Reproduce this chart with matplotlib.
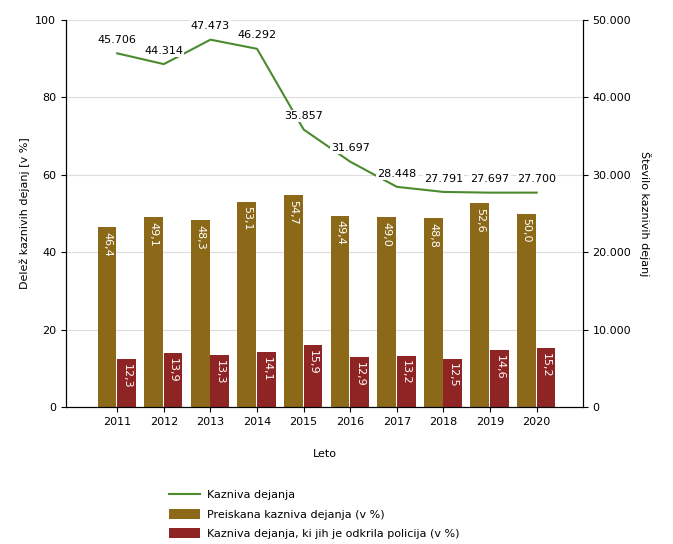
import matplotlib
matplotlib.use("Agg")
import matplotlib.pyplot as plt
import numpy as np
from matplotlib.ticker import FuncFormatter

years = ["2011", "2012", "2013", "2014", "2015", "2016", "2017", "2018", "2019", "2020"]
kazniva = [45706, 44314, 47473, 46292, 35857, 31697, 28448, 27791, 27697, 27700]
preiskana = [46.4, 49.1, 48.3, 53.1, 54.7, 49.4, 49.0, 48.8, 52.6, 50.0]
policija = [12.3, 13.9, 13.3, 14.1, 15.9, 12.9, 13.2, 12.5, 14.6, 15.2]

gold = "#8c6918"
red = "#8e2424"
green = "#4b8a2e"

fig = plt.figure(figsize=(6.73, 5.44), dpi=100)
ax = fig.add_axes([0.098, 0.252, 0.768, 0.711])
x = np.arange(len(years))
w = 0.4
b1 = ax.bar(x - w / 2 - 0.02, preiskana, w, color=gold, zorder=2, label="Preiskana kazniva dejanja (v %)")
b2 = ax.bar(x + w / 2, policija, w, color=red, zorder=2, label="Kazniva dejanja, ki jih je odkrila policija (v %)")
for xi, v in zip(x, preiskana):
    ax.text(xi - w / 2 - 0.02, v - 1.2, f"{v:.1f}".replace(".", ","), rotation=270, ha="center", va="top",
            color="white", fontsize=8, zorder=3)
for xi, v in zip(x, policija):
    ax.text(xi + w / 2, v - 1.2, f"{v:.1f}".replace(".", ","), rotation=270, ha="center", va="top",
            color="white", fontsize=8, zorder=3)
ax.set_ylim(0, 100)
ax.set_yticks([0, 20, 40, 60, 80, 100])
ax.set_xlim(-1.1, 9.99)
ax.set_xticks(x)
ax.set_xticklabels(years, fontsize=8)
ax.tick_params(axis="y", labelsize=8)
ax.yaxis.grid(True, color="#dddddd", linewidth=0.8, zorder=0)
ax.set_axisbelow(True)
ax.spines["top"].set_visible(False)
ax.set_ylabel("Delež kaznivih dejanj [v %]", fontsize=8)
ax.set_xlabel("Leto", fontsize=8, labelpad=16)

ax2 = ax.twinx()
line, = ax2.plot(x, kazniva, color=green, linewidth=1.5, zorder=4, label="Kazniva dejanja")
ax2.set_ylim(0, 50000)
ax2.set_yticks([0, 10000, 20000, 30000, 40000, 50000])
ax2.yaxis.set_major_formatter(FuncFormatter(lambda v, p: "0" if v == 0 else f"{int(v):,}".replace(",", ".")))
ax2.tick_params(axis="y", labelsize=8)
ax2.spines["top"].set_visible(False)
ax2.set_ylabel("Število kaznivih dejanj", fontsize=8, rotation=270, labelpad=14)
for xi, v in zip(x, kazniva):
    ax2.annotate(f"{v:,}".replace(",", "."), (xi, v), xytext=(0, 6), textcoords="offset points",
                 ha="center", va="bottom", fontsize=8,
                 bbox=dict(boxstyle="square,pad=0.1", fc="white", ec="none"), zorder=5)

fig.legend(handles=[line, b1, b2], loc="upper left", bbox_to_anchor=(0.245, 0.108),
           frameon=False, fontsize=8, handlelength=2.8, handleheight=1.0, labelspacing=0.75,
           handletextpad=0.6, borderaxespad=0)
fig.savefig("out.png", dpi=100)
